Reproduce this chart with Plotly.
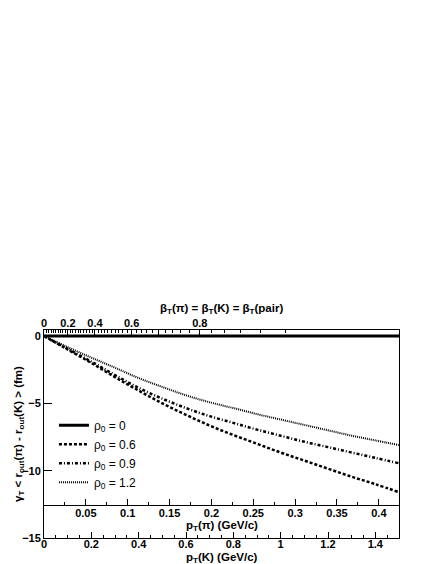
import plotly.graph_objects as go

pt_k = [0.0, 0.1, 0.2, 0.3, 0.4, 0.5, 0.6, 0.7, 0.8, 0.9, 1.0, 1.1, 1.2, 1.3, 1.4, 1.5]

# gamma_T <r_out(pi) - r_out(K)> (fm) for each rho_0
rho_00 = [0.0] * 16
rho_06 = [0.0, -1.0, -2.0, -3.05, -4.05, -5.0, -5.85, -6.65, -7.35, -8.0, -8.65, -9.25, -9.85, -10.45, -11.0, -11.6]
rho_09 = [0.0, -0.95, -1.9, -2.9, -3.85, -4.65, -5.35, -5.95, -6.45, -6.95, -7.4, -7.85, -8.25, -8.65, -9.05, -9.45]
rho_12 = [0.0, -0.82, -1.6, -2.35, -3.12, -3.78, -4.4, -4.92, -5.35, -5.8, -6.2, -6.6, -7.0, -7.4, -7.75, -8.1]

# top axis (beta_T) ticks
beta_major = [0.0, 0.1, 0.2, 0.3, 0.4, 0.5, 0.6, 0.7, 0.8, 0.9]
beta_labels = ["0", "", "0.2", "", "0.4", "", "0.6", "", "0.8", ""]
beta_minor = [0.02 * i for i in range(46)]

# pion pT axis ticks
pt_pi_ticks = [0.05, 0.1, 0.15, 0.2, 0.25, 0.3, 0.35, 0.4]

m_k = 0.49368
m_pi = 0.13957


def beta_to_pk(b):
    return b * m_k / (1 - b * b) ** 0.5


sty = dict(color="black")
fig = go.Figure()
fig.add_trace(go.Scatter(x=pt_k, y=rho_00, mode="lines", name="ρ<sub>0</sub> = 0",
                         line=dict(width=3, **sty)))
fig.add_trace(go.Scatter(x=pt_k, y=rho_06, mode="lines", name="ρ<sub>0</sub> = 0.6", line_shape="spline",
                         line=dict(width=2.5, dash="3px,2px", **sty)))
fig.add_trace(go.Scatter(x=pt_k, y=rho_09, mode="lines", name="ρ<sub>0</sub> = 0.9", line_shape="spline",
                         line=dict(width=2.5, dash="3px,2px,1px,2px", **sty)))
fig.add_trace(go.Scatter(x=pt_k, y=rho_12, mode="lines", name="ρ<sub>0</sub> = 1.2", line_shape="spline",
                         line=dict(width=2, dash="1px,1px", **sty)))
# empty traces so the extra axes get drawn
fig.add_trace(go.Scatter(x=[], y=[], xaxis="x2", yaxis="y", showlegend=False, hoverinfo="skip"))
fig.add_trace(go.Scatter(x=[], y=[], xaxis="x3", yaxis="y", showlegend=False, hoverinfo="skip"))

tickfont = dict(family="Liberation Sans, Arial, sans-serif", size=11, color="black", weight="bold")

fig.update_layout(
    width=436, height=564,
    margin=dict(l=36, r=45, t=322, b=34),
    plot_bgcolor="white", paper_bgcolor="white",
    showlegend=True,
    legend=dict(x=0.028, y=0.612, xanchor="left", yanchor="top", bgcolor="rgba(0,0,0,0)",
                font=dict(family="Liberation Sans, Arial, sans-serif", size=12, color="black"),
                tracegroupgap=0, itemwidth=30),
    xaxis=dict(range=[0, 1.5], showline=True, mirror=True, linecolor="black", linewidth=1,
               showgrid=False, zeroline=False, ticks="inside", ticklen=6, tickcolor="black",
               dtick=0.2, tick0=0, tickfont=tickfont, ticklabelstandoff=-4,
               minor=dict(dtick=0.05, tick0=0, ticks="inside", ticklen=3, tickcolor="black")),
    yaxis=dict(range=[-15, 0.45], showline=True, mirror=True, linecolor="black", linewidth=1,
               showgrid=False, zeroline=False, ticks="inside", ticklen=8, tickcolor="black",
               tickvals=[0, -5, -10, -15], tickfont=tickfont),
    xaxis2=dict(range=[0, 1.5], overlaying="x", side="top", anchor="y", showgrid=False,
                zeroline=False, showline=False, ticks="inside", ticklen=6, tickcolor="black",
                tickmode="array", tickvals=[beta_to_pk(b) for b in beta_major], ticktext=beta_labels,
                tickfont=tickfont,
                minor=dict(tickmode="array", tickvals=[beta_to_pk(b) for b in beta_minor],
                           ticks="inside", ticklen=3, tickcolor="black")),
    xaxis3=dict(range=[0, 1.5 * m_pi / m_k], overlaying="x", side="bottom", anchor="free",
                position=0.159, showgrid=False, zeroline=False, showline=True, linecolor="black",
                linewidth=1, ticks="inside", ticklen=6, tickcolor="black", ticklabelstandoff=-2,
                tickvals=pt_pi_ticks, tickfont=tickfont,
                minor=dict(dtick=0.025, tick0=0, ticks="inside", ticklen=3, tickcolor="black")),
)

titlefont = dict(family="Liberation Sans, Arial, sans-serif", size=11.5, color="black", weight="bold")
ann = dict(xref="paper", yref="paper", showarrow=False, font=titlefont, xanchor="center", yanchor="middle")
fig.add_annotation(text="β<sub>T</sub>(π) = β<sub>T</sub>(K) = β<sub>T</sub>(pair)",
                   x=0.5, y=1, yshift=21, **ann)
fig.add_annotation(text="p<sub>T</sub>(π) (GeV/c)", x=0.5, y=0, yshift=12, **ann)
fig.add_annotation(text="p<sub>T</sub>(K) (GeV/c)", x=0.5, y=0, yshift=-19.5, **ann)
fig.add_annotation(text="γ<sub>T</sub> < r<sub>out</sub>(π) - r<sub>out</sub>(K) > (fm)",
                   x=0, y=0.5, xshift=-25, textangle=-90, **ann)

fig.write_html("out.html")
